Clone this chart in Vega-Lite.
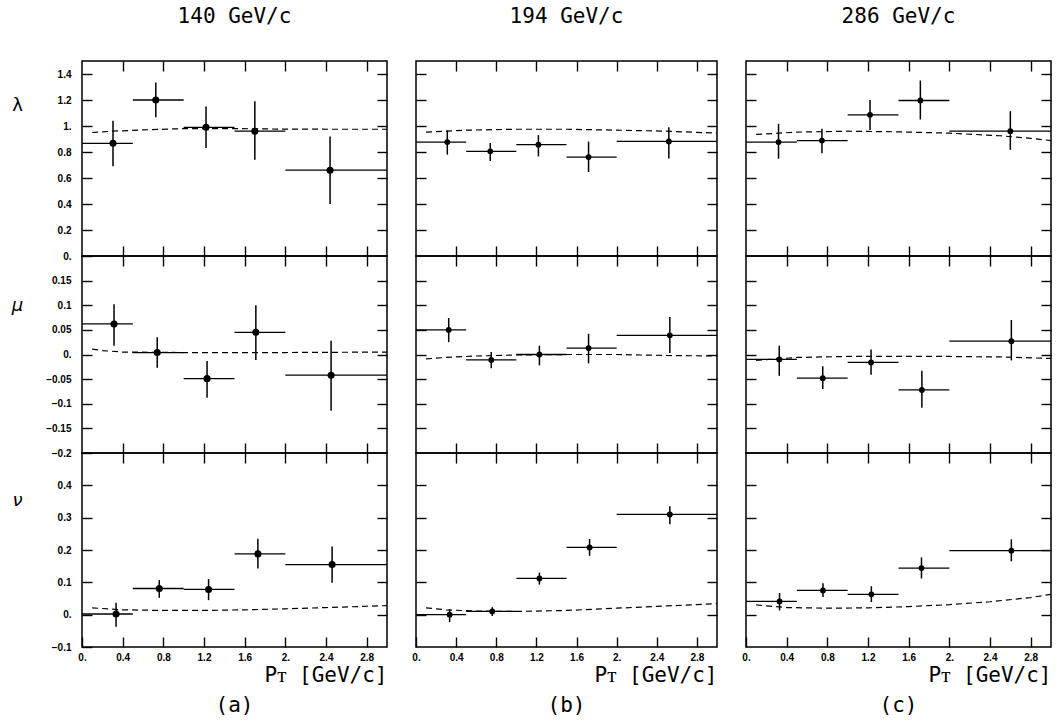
{
 "$schema": "https://vega.github.io/schema/vega-lite/v6.json",
 "background": "white",
 "padding": {"left": 10, "right": 4, "top": 5, "bottom": 4},
 "datasets": {
  "pts": [
   {"col":"a","par":"l","x":0.305,"xlo":0,"xhi":0.5,"y":0.867,"ylo":0.69,"yhi":1.04},
   {"col":"a","par":"l","x":0.726,"xlo":0.5,"xhi":1.0,"y":1.20,"ylo":1.067,"yhi":1.335},
   {"col":"a","par":"l","x":1.22,"xlo":1.0,"xhi":1.5,"y":0.99,"ylo":0.83,"yhi":1.15},
   {"col":"a","par":"l","x":1.70,"xlo":1.5,"xhi":2.0,"y":0.96,"ylo":0.74,"yhi":1.19},
   {"col":"a","par":"l","x":2.44,"xlo":2.0,"xhi":3.0,"y":0.66,"ylo":0.40,"yhi":0.92},
   {"col":"a","par":"m","x":0.315,"xlo":0,"xhi":0.5,"y":0.062,"ylo":0.018,"yhi":0.102},
   {"col":"a","par":"m","x":0.74,"xlo":0.5,"xhi":1.0,"y":0.004,"ylo":-0.027,"yhi":0.035},
   {"col":"a","par":"m","x":1.23,"xlo":1.0,"xhi":1.5,"y":-0.049,"ylo":-0.088,"yhi":-0.013},
   {"col":"a","par":"m","x":1.71,"xlo":1.5,"xhi":2.0,"y":0.045,"ylo":-0.011,"yhi":0.10},
   {"col":"a","par":"m","x":2.45,"xlo":2.0,"xhi":3.0,"y":-0.042,"ylo":-0.114,"yhi":0.028},
   {"col":"a","par":"n","x":0.335,"xlo":0,"xhi":0.5,"y":0.002,"ylo":-0.037,"yhi":0.037},
   {"col":"a","par":"n","x":0.76,"xlo":0.5,"xhi":1.0,"y":0.081,"ylo":0.052,"yhi":0.107},
   {"col":"a","par":"n","x":1.245,"xlo":1.0,"xhi":1.5,"y":0.078,"ylo":0.045,"yhi":0.11},
   {"col":"a","par":"n","x":1.73,"xlo":1.5,"xhi":2.0,"y":0.188,"ylo":0.143,"yhi":0.235},
   {"col":"a","par":"n","x":2.46,"xlo":2.0,"xhi":3.0,"y":0.155,"ylo":0.099,"yhi":0.211},
   {"col":"b","par":"l","x":0.312,"xlo":0,"xhi":0.5,"y":0.876,"ylo":0.78,"yhi":0.965},
   {"col":"b","par":"l","x":0.74,"xlo":0.5,"xhi":1.0,"y":0.805,"ylo":0.73,"yhi":0.87},
   {"col":"b","par":"l","x":1.22,"xlo":1.0,"xhi":1.5,"y":0.856,"ylo":0.766,"yhi":0.93},
   {"col":"b","par":"l","x":1.72,"xlo":1.5,"xhi":2.0,"y":0.761,"ylo":0.646,"yhi":0.88},
   {"col":"b","par":"l","x":2.52,"xlo":2.0,"xhi":3.0,"y":0.881,"ylo":0.75,"yhi":0.99},
   {"col":"b","par":"m","x":0.326,"xlo":0,"xhi":0.5,"y":0.05,"ylo":0.025,"yhi":0.074},
   {"col":"b","par":"m","x":0.75,"xlo":0.5,"xhi":1.0,"y":-0.011,"ylo":-0.028,"yhi":0.005},
   {"col":"b","par":"m","x":1.23,"xlo":1.0,"xhi":1.5,"y":0.0,"ylo":-0.022,"yhi":0.018},
   {"col":"b","par":"m","x":1.72,"xlo":1.5,"xhi":2.0,"y":0.013,"ylo":-0.018,"yhi":0.042},
   {"col":"b","par":"m","x":2.53,"xlo":2.0,"xhi":3.0,"y":0.039,"ylo":0.003,"yhi":0.076},
   {"col":"b","par":"n","x":0.335,"xlo":0,"xhi":0.5,"y":0.0,"ylo":-0.023,"yhi":0.017},
   {"col":"b","par":"n","x":0.76,"xlo":0.5,"xhi":1.0,"y":0.01,"ylo":-0.004,"yhi":0.023},
   {"col":"b","par":"n","x":1.23,"xlo":1.0,"xhi":1.5,"y":0.112,"ylo":0.093,"yhi":0.13},
   {"col":"b","par":"n","x":1.73,"xlo":1.5,"xhi":2.0,"y":0.208,"ylo":0.182,"yhi":0.234},
   {"col":"b","par":"n","x":2.53,"xlo":2.0,"xhi":3.0,"y":0.31,"ylo":0.28,"yhi":0.335},
   {"col":"c","par":"l","x":0.32,"xlo":0,"xhi":0.5,"y":0.876,"ylo":0.748,"yhi":1.017},
   {"col":"c","par":"l","x":0.747,"xlo":0.5,"xhi":1.0,"y":0.888,"ylo":0.79,"yhi":0.978},
   {"col":"c","par":"l","x":1.22,"xlo":1.0,"xhi":1.5,"y":1.086,"ylo":0.97,"yhi":1.20},
   {"col":"c","par":"l","x":1.715,"xlo":1.5,"xhi":2.0,"y":1.196,"ylo":1.05,"yhi":1.35},
   {"col":"c","par":"l","x":2.60,"xlo":2.0,"xhi":3.0,"y":0.96,"ylo":0.817,"yhi":1.114},
   {"col":"c","par":"m","x":0.327,"xlo":0,"xhi":0.5,"y":-0.01,"ylo":-0.043,"yhi":0.018},
   {"col":"c","par":"m","x":0.755,"xlo":0.5,"xhi":1.0,"y":-0.048,"ylo":-0.07,"yhi":-0.024},
   {"col":"c","par":"m","x":1.23,"xlo":1.0,"xhi":1.5,"y":-0.016,"ylo":-0.041,"yhi":0.010},
   {"col":"c","par":"m","x":1.73,"xlo":1.5,"xhi":2.0,"y":-0.072,"ylo":-0.108,"yhi":-0.033},
   {"col":"c","par":"m","x":2.61,"xlo":2.0,"xhi":3.0,"y":0.027,"ylo":-0.012,"yhi":0.07},
   {"col":"c","par":"n","x":0.33,"xlo":0,"xhi":0.5,"y":0.041,"ylo":0.013,"yhi":0.067},
   {"col":"c","par":"n","x":0.757,"xlo":0.5,"xhi":1.0,"y":0.075,"ylo":0.055,"yhi":0.097},
   {"col":"c","par":"n","x":1.233,"xlo":1.0,"xhi":1.5,"y":0.063,"ylo":0.039,"yhi":0.088},
   {"col":"c","par":"n","x":1.726,"xlo":1.5,"xhi":2.0,"y":0.144,"ylo":0.112,"yhi":0.177},
   {"col":"c","par":"n","x":2.61,"xlo":2.0,"xhi":3.0,"y":0.198,"ylo":0.165,"yhi":0.233}
  ],
  "curve": [
   {"col":"a","par":"l","x":0.1,"y":0.95},{"col":"a","par":"l","x":0.3,"y":0.96},{"col":"a","par":"l","x":0.6,"y":0.97},{"col":"a","par":"l","x":1.0,"y":0.98},{"col":"a","par":"l","x":1.5,"y":0.98},{"col":"a","par":"l","x":2.0,"y":0.976},{"col":"a","par":"l","x":2.5,"y":0.975},{"col":"a","par":"l","x":3.0,"y":0.975},
   {"col":"a","par":"m","x":0.1,"y":0.011},{"col":"a","par":"m","x":0.2,"y":0.008},{"col":"a","par":"m","x":0.4,"y":0.005},{"col":"a","par":"m","x":1.0,"y":0.004},{"col":"a","par":"m","x":2.0,"y":0.004},{"col":"a","par":"m","x":3.0,"y":0.005},
   {"col":"a","par":"n","x":0.1,"y":0.021},{"col":"a","par":"n","x":0.4,"y":0.015},{"col":"a","par":"n","x":0.8,"y":0.013},{"col":"a","par":"n","x":1.2,"y":0.013},{"col":"a","par":"n","x":1.6,"y":0.015},{"col":"a","par":"n","x":2.0,"y":0.018},{"col":"a","par":"n","x":2.4,"y":0.022},{"col":"a","par":"n","x":2.8,"y":0.026},{"col":"a","par":"n","x":3.0,"y":0.028},
   {"col":"b","par":"l","x":0.1,"y":0.953},{"col":"b","par":"l","x":0.5,"y":0.968},{"col":"b","par":"l","x":1.0,"y":0.975},{"col":"b","par":"l","x":1.5,"y":0.975},{"col":"b","par":"l","x":2.0,"y":0.968},{"col":"b","par":"l","x":2.5,"y":0.96},{"col":"b","par":"l","x":3.0,"y":0.945},
   {"col":"b","par":"m","x":0.1,"y":-0.009},{"col":"b","par":"m","x":0.3,"y":-0.006},{"col":"b","par":"m","x":0.6,"y":-0.003},{"col":"b","par":"m","x":1.0,"y":-0.001},{"col":"b","par":"m","x":1.5,"y":0.0},{"col":"b","par":"m","x":2.0,"y":0.0},{"col":"b","par":"m","x":2.5,"y":-0.002},{"col":"b","par":"m","x":3.0,"y":-0.003},
   {"col":"b","par":"n","x":0.1,"y":0.021},{"col":"b","par":"n","x":0.3,"y":0.015},{"col":"b","par":"n","x":0.6,"y":0.011},{"col":"b","par":"n","x":1.0,"y":0.01},{"col":"b","par":"n","x":1.5,"y":0.013},{"col":"b","par":"n","x":2.0,"y":0.02},{"col":"b","par":"n","x":2.5,"y":0.027},{"col":"b","par":"n","x":3.0,"y":0.034},
   {"col":"c","par":"l","x":0.1,"y":0.935},{"col":"c","par":"l","x":0.5,"y":0.953},{"col":"c","par":"l","x":1.0,"y":0.96},{"col":"c","par":"l","x":1.5,"y":0.955},{"col":"c","par":"l","x":2.0,"y":0.945},{"col":"c","par":"l","x":2.5,"y":0.925},{"col":"c","par":"l","x":2.8,"y":0.905},{"col":"c","par":"l","x":3.0,"y":0.888},
   {"col":"c","par":"m","x":0.1,"y":-0.012},{"col":"c","par":"m","x":0.5,"y":-0.006},{"col":"c","par":"m","x":1.0,"y":-0.004},{"col":"c","par":"m","x":2.0,"y":-0.004},{"col":"c","par":"m","x":2.5,"y":-0.005},{"col":"c","par":"m","x":3.0,"y":-0.008},
   {"col":"c","par":"n","x":0.1,"y":0.03},{"col":"c","par":"n","x":0.4,"y":0.022},{"col":"c","par":"n","x":0.8,"y":0.02},{"col":"c","par":"n","x":1.2,"y":0.021},{"col":"c","par":"n","x":1.6,"y":0.025},{"col":"c","par":"n","x":2.0,"y":0.031},{"col":"c","par":"n","x":2.4,"y":0.04},{"col":"c","par":"n","x":2.8,"y":0.053},{"col":"c","par":"n","x":3.0,"y":0.063}
  ]
 },
 "columns": 3,
 "spacing": {"row": 0, "column": 29},
 "bounds": "flush",
 "concat": [
  {
   "width": 305, "height": 195,
   "title": {"text": "140 GeV/c", "offset": 33},
   "data": {"name": "pts"},
   "transform": [{"filter": "datum.col==='a' && datum.par==='l'"}],
   "layer": [
    {"mark": {"type": "rule", "color": "black", "strokeWidth": 1.3},
     "encoding": {
      "x": {"field": "xlo", "type": "quantitative", "scale": {"domain": [0, 3], "nice": false}, "axis": {"orient": "bottom", "values": [0.4,0.8,1.2,1.6,2,2.4,2.8], "tickSize": -10, "labels": false, "title": null}},
      "x2": {"field": "xhi"},
      "y": {"field": "y", "type": "quantitative", "scale": {"domain": [0, 1.5], "nice": false}, "axis": {"orient": "left", "values": [0,0.2,0.4,0.6,0.8,1,1.2,1.4], "tickSize": -10, "labelPadding": 21, "labelExpr": "abs(datum.value) < 1e-9 ? '0.' : (datum.value % 1 === 0 ? format(datum.value, 'd') + '.' : format(datum.value, '~g'))", "title": "λ", "titleAngle": 0, "titleX": -65, "titleY": 44, "titleAlign": "center", "titleBaseline": "middle", "titleFont": "DejaVu Sans", "titleFontSize": 18, "titleFontWeight": "normal"}}}},
    {"mark": {"type": "rule", "color": "black", "strokeWidth": 1.5},
     "encoding": {
      "x": {"field": "x", "type": "quantitative", "axis": {"orient": "top", "values": [0.4,0.8,1.2,1.6,2,2.4,2.8], "tickSize": -10, "labels": false, "title": null}},
      "y": {"field": "ylo", "type": "quantitative", "axis": {"orient": "right", "values": [0.2,0.4,0.6,0.8,1,1.2,1.4], "tickSize": -10, "labels": false, "title": null}},
      "y2": {"field": "yhi"}}},
    {"mark": {"type": "point", "filled": true, "color": "black", "opacity": 1, "size": 50},
     "encoding": {"x": {"field": "x", "type": "quantitative", "axis": null}, "y": {"field": "y", "type": "quantitative", "axis": null}}},
    {"data": {"name": "curve"}, "transform": [{"filter": "datum.col==='a' && datum.par==='l'"}],
     "mark": {"type": "line", "color": "black", "strokeWidth": 1.2, "strokeDash": [6, 4]},
     "encoding": {"x": {"field": "x", "type": "quantitative", "axis": null}, "y": {"field": "y", "type": "quantitative", "axis": null}}}
   ],
   "resolve": {"axis": {"x": "independent", "y": "independent"}}
  },
  {
   "width": 301, "height": 195,
   "title": {"text": "194 GeV/c", "offset": 33},
   "data": {"name": "pts"},
   "transform": [{"filter": "datum.col==='b' && datum.par==='l'"}],
   "layer": [
    {"mark": {"type": "rule", "color": "black", "strokeWidth": 1.3},
     "encoding": {
      "x": {"field": "xlo", "type": "quantitative", "scale": {"domain": [0, 3], "nice": false}, "axis": {"orient": "bottom", "values": [0.4,0.8,1.2,1.6,2,2.4,2.8], "tickSize": -10, "labels": false, "title": null}},
      "x2": {"field": "xhi"},
      "y": {"field": "y", "type": "quantitative", "scale": {"domain": [0, 1.5], "nice": false}, "axis": {"orient": "left", "values": [0.2,0.4,0.6,0.8,1,1.2,1.4], "tickSize": -10, "labels": false, "title": null}}}},
    {"mark": {"type": "rule", "color": "black", "strokeWidth": 1.5},
     "encoding": {
      "x": {"field": "x", "type": "quantitative", "axis": {"orient": "top", "values": [0.4,0.8,1.2,1.6,2,2.4,2.8], "tickSize": -10, "labels": false, "title": null}},
      "y": {"field": "ylo", "type": "quantitative", "axis": {"orient": "right", "values": [0.2,0.4,0.6,0.8,1,1.2,1.4], "tickSize": -10, "labels": false, "title": null}},
      "y2": {"field": "yhi"}}},
    {"mark": {"type": "point", "filled": true, "color": "black", "opacity": 1, "size": 34},
     "encoding": {"x": {"field": "x", "type": "quantitative", "axis": null}, "y": {"field": "y", "type": "quantitative", "axis": null}}},
    {"data": {"name": "curve"}, "transform": [{"filter": "datum.col==='b' && datum.par==='l'"}],
     "mark": {"type": "line", "color": "black", "strokeWidth": 1.2, "strokeDash": [6, 4]},
     "encoding": {"x": {"field": "x", "type": "quantitative", "axis": null}, "y": {"field": "y", "type": "quantitative", "axis": null}}}
   ],
   "resolve": {"axis": {"x": "independent", "y": "independent"}}
  },
  {
   "width": 305, "height": 195,
   "title": {"text": "286 GeV/c", "offset": 33},
   "data": {"name": "pts"},
   "transform": [{"filter": "datum.col==='c' && datum.par==='l'"}],
   "layer": [
    {"mark": {"type": "rule", "color": "black", "strokeWidth": 1.3},
     "encoding": {
      "x": {"field": "xlo", "type": "quantitative", "scale": {"domain": [0, 3], "nice": false}, "axis": {"orient": "bottom", "values": [0.4,0.8,1.2,1.6,2,2.4,2.8], "tickSize": -10, "labels": false, "title": null}},
      "x2": {"field": "xhi"},
      "y": {"field": "y", "type": "quantitative", "scale": {"domain": [0, 1.5], "nice": false}, "axis": {"orient": "left", "values": [0.2,0.4,0.6,0.8,1,1.2,1.4], "tickSize": -10, "labels": false, "title": null}}}},
    {"mark": {"type": "rule", "color": "black", "strokeWidth": 1.5},
     "encoding": {
      "x": {"field": "x", "type": "quantitative", "axis": {"orient": "top", "values": [0.4,0.8,1.2,1.6,2,2.4,2.8], "tickSize": -10, "labels": false, "title": null}},
      "y": {"field": "ylo", "type": "quantitative", "axis": {"orient": "right", "values": [0.2,0.4,0.6,0.8,1,1.2,1.4], "tickSize": -10, "labels": false, "title": null}},
      "y2": {"field": "yhi"}}},
    {"mark": {"type": "point", "filled": true, "color": "black", "opacity": 1, "size": 34},
     "encoding": {"x": {"field": "x", "type": "quantitative", "axis": null}, "y": {"field": "y", "type": "quantitative", "axis": null}}},
    {"data": {"name": "curve"}, "transform": [{"filter": "datum.col==='c' && datum.par==='l'"}],
     "mark": {"type": "line", "color": "black", "strokeWidth": 1.2, "strokeDash": [6, 4]},
     "encoding": {"x": {"field": "x", "type": "quantitative", "axis": null}, "y": {"field": "y", "type": "quantitative", "axis": null}}}
   ],
   "resolve": {"axis": {"x": "independent", "y": "independent"}}
  },
  {
   "width": 305, "height": 197,
   "data": {"name": "pts"},
   "transform": [{"filter": "datum.col==='a' && datum.par==='m'"}],
   "layer": [
    {"mark": {"type": "rule", "color": "black", "strokeWidth": 1.3},
     "encoding": {
      "x": {"field": "xlo", "type": "quantitative", "scale": {"domain": [0, 3], "nice": false}, "axis": {"orient": "bottom", "values": [0.4,0.8,1.2,1.6,2,2.4,2.8], "tickSize": -10, "labels": false, "title": null}},
      "x2": {"field": "xhi"},
      "y": {"field": "y", "type": "quantitative", "scale": {"domain": [-0.2, 0.2], "nice": false}, "axis": {"orient": "left", "values": [-0.2,-0.15,-0.1,-0.05,0,0.05,0.1,0.15], "tickSize": -10, "labelPadding": 21, "labelExpr": "abs(datum.value) < 1e-9 ? '0.' : (datum.value % 1 === 0 ? format(datum.value, 'd') + '.' : format(datum.value, '~g'))", "title": "μ", "titleAngle": 0, "titleX": -65, "titleY": 49, "titleAlign": "center", "titleBaseline": "middle", "titleFont": "DejaVu Sans", "titleFontSize": 18, "titleFontWeight": "normal", "titleFontStyle": "italic"}}}},
    {"mark": {"type": "rule", "color": "black", "strokeWidth": 1.5},
     "encoding": {
      "x": {"field": "x", "type": "quantitative", "axis": {"orient": "top", "values": [0.4,0.8,1.2,1.6,2,2.4,2.8], "tickSize": -10, "labels": false, "title": null}},
      "y": {"field": "ylo", "type": "quantitative", "axis": {"orient": "right", "values": [-0.15,-0.1,-0.05,0,0.05,0.1,0.15], "tickSize": -10, "labels": false, "title": null}},
      "y2": {"field": "yhi"}}},
    {"mark": {"type": "point", "filled": true, "color": "black", "opacity": 1, "size": 50},
     "encoding": {"x": {"field": "x", "type": "quantitative", "axis": null}, "y": {"field": "y", "type": "quantitative", "axis": null}}},
    {"data": {"name": "curve"}, "transform": [{"filter": "datum.col==='a' && datum.par==='m'"}],
     "mark": {"type": "line", "color": "black", "strokeWidth": 1.2, "strokeDash": [6, 4]},
     "encoding": {"x": {"field": "x", "type": "quantitative", "axis": null}, "y": {"field": "y", "type": "quantitative", "axis": null}}}
   ],
   "resolve": {"axis": {"x": "independent", "y": "independent"}}
  },
  {
   "width": 301, "height": 197,
   "data": {"name": "pts"},
   "transform": [{"filter": "datum.col==='b' && datum.par==='m'"}],
   "layer": [
    {"mark": {"type": "rule", "color": "black", "strokeWidth": 1.3},
     "encoding": {
      "x": {"field": "xlo", "type": "quantitative", "scale": {"domain": [0, 3], "nice": false}, "axis": {"orient": "bottom", "values": [0.4,0.8,1.2,1.6,2,2.4,2.8], "tickSize": -10, "labels": false, "title": null}},
      "x2": {"field": "xhi"},
      "y": {"field": "y", "type": "quantitative", "scale": {"domain": [-0.2, 0.2], "nice": false}, "axis": {"orient": "left", "values": [-0.15,-0.1,-0.05,0,0.05,0.1,0.15], "tickSize": -10, "labels": false, "title": null}}}},
    {"mark": {"type": "rule", "color": "black", "strokeWidth": 1.5},
     "encoding": {
      "x": {"field": "x", "type": "quantitative", "axis": {"orient": "top", "values": [0.4,0.8,1.2,1.6,2,2.4,2.8], "tickSize": -10, "labels": false, "title": null}},
      "y": {"field": "ylo", "type": "quantitative", "axis": {"orient": "right", "values": [-0.15,-0.1,-0.05,0,0.05,0.1,0.15], "tickSize": -10, "labels": false, "title": null}},
      "y2": {"field": "yhi"}}},
    {"mark": {"type": "point", "filled": true, "color": "black", "opacity": 1, "size": 34},
     "encoding": {"x": {"field": "x", "type": "quantitative", "axis": null}, "y": {"field": "y", "type": "quantitative", "axis": null}}},
    {"data": {"name": "curve"}, "transform": [{"filter": "datum.col==='b' && datum.par==='m'"}],
     "mark": {"type": "line", "color": "black", "strokeWidth": 1.2, "strokeDash": [6, 4]},
     "encoding": {"x": {"field": "x", "type": "quantitative", "axis": null}, "y": {"field": "y", "type": "quantitative", "axis": null}}}
   ],
   "resolve": {"axis": {"x": "independent", "y": "independent"}}
  },
  {
   "width": 305, "height": 197,
   "data": {"name": "pts"},
   "transform": [{"filter": "datum.col==='c' && datum.par==='m'"}],
   "layer": [
    {"mark": {"type": "rule", "color": "black", "strokeWidth": 1.3},
     "encoding": {
      "x": {"field": "xlo", "type": "quantitative", "scale": {"domain": [0, 3], "nice": false}, "axis": {"orient": "bottom", "values": [0.4,0.8,1.2,1.6,2,2.4,2.8], "tickSize": -10, "labels": false, "title": null}},
      "x2": {"field": "xhi"},
      "y": {"field": "y", "type": "quantitative", "scale": {"domain": [-0.2, 0.2], "nice": false}, "axis": {"orient": "left", "values": [-0.15,-0.1,-0.05,0,0.05,0.1,0.15], "tickSize": -10, "labels": false, "title": null}}}},
    {"mark": {"type": "rule", "color": "black", "strokeWidth": 1.5},
     "encoding": {
      "x": {"field": "x", "type": "quantitative", "axis": {"orient": "top", "values": [0.4,0.8,1.2,1.6,2,2.4,2.8], "tickSize": -10, "labels": false, "title": null}},
      "y": {"field": "ylo", "type": "quantitative", "axis": {"orient": "right", "values": [-0.15,-0.1,-0.05,0,0.05,0.1,0.15], "tickSize": -10, "labels": false, "title": null}},
      "y2": {"field": "yhi"}}},
    {"mark": {"type": "point", "filled": true, "color": "black", "opacity": 1, "size": 34},
     "encoding": {"x": {"field": "x", "type": "quantitative", "axis": null}, "y": {"field": "y", "type": "quantitative", "axis": null}}},
    {"data": {"name": "curve"}, "transform": [{"filter": "datum.col==='c' && datum.par==='m'"}],
     "mark": {"type": "line", "color": "black", "strokeWidth": 1.2, "strokeDash": [6, 4]},
     "encoding": {"x": {"field": "x", "type": "quantitative", "axis": null}, "y": {"field": "y", "type": "quantitative", "axis": null}}}
   ],
   "resolve": {"axis": {"x": "independent", "y": "independent"}}
  },
  {
   "width": 305, "height": 194,
   "title": {"text": "(a)", "orient": "bottom", "offset": 10},
   "data": {"name": "pts"},
   "transform": [{"filter": "datum.col==='a' && datum.par==='n'"}],
   "layer": [
    {"mark": {"type": "rule", "color": "black", "strokeWidth": 1.3},
     "encoding": {
      "x": {"field": "xlo", "type": "quantitative", "scale": {"domain": [0, 3], "nice": false}, "axis": {"orient": "bottom", "values": [0,0.4,0.8,1.2,1.6,2,2.4,2.8], "tickSize": -10, "labelPadding": 15, "labelExpr": "abs(datum.value) < 1e-9 ? '0.' : (datum.value % 1 === 0 ? format(datum.value, 'd') + '.' : format(datum.value, '~g'))", "title": "Pᴛ [GeV/c]", "titleAnchor": "end", "titlePadding": 2, "titleFont": "DejaVu Sans Mono", "titleFontSize": 21, "titleFontWeight": "normal"}},
      "x2": {"field": "xhi"},
      "y": {"field": "y", "type": "quantitative", "scale": {"domain": [-0.1, 0.5], "nice": false}, "axis": {"orient": "left", "values": [-0.1,0,0.1,0.2,0.3,0.4], "tickSize": -10, "labelPadding": 21, "labelExpr": "abs(datum.value) < 1e-9 ? '0.' : (datum.value % 1 === 0 ? format(datum.value, 'd') + '.' : format(datum.value, '~g'))", "title": "ν", "titleAngle": 0, "titleX": -65, "titleY": 47, "titleAlign": "center", "titleBaseline": "middle", "titleFont": "DejaVu Sans", "titleFontSize": 18, "titleFontWeight": "normal", "titleFontStyle": "italic"}}}},
    {"mark": {"type": "rule", "color": "black", "strokeWidth": 1.5},
     "encoding": {
      "x": {"field": "x", "type": "quantitative", "axis": {"orient": "top", "values": [0.4,0.8,1.2,1.6,2,2.4,2.8], "tickSize": -10, "labels": false, "title": null}},
      "y": {"field": "ylo", "type": "quantitative", "axis": {"orient": "right", "values": [0,0.1,0.2,0.3,0.4], "tickSize": -10, "labels": false, "title": null}},
      "y2": {"field": "yhi"}}},
    {"mark": {"type": "point", "filled": true, "color": "black", "opacity": 1, "size": 50},
     "encoding": {"x": {"field": "x", "type": "quantitative", "axis": null}, "y": {"field": "y", "type": "quantitative", "axis": null}}},
    {"data": {"name": "curve"}, "transform": [{"filter": "datum.col==='a' && datum.par==='n'"}],
     "mark": {"type": "line", "color": "black", "strokeWidth": 1.2, "strokeDash": [6, 4]},
     "encoding": {"x": {"field": "x", "type": "quantitative", "axis": null}, "y": {"field": "y", "type": "quantitative", "axis": null}}}
   ],
   "resolve": {"axis": {"x": "independent", "y": "independent"}}
  },
  {
   "width": 301, "height": 194,
   "title": {"text": "(b)", "orient": "bottom", "offset": 10},
   "data": {"name": "pts"},
   "transform": [{"filter": "datum.col==='b' && datum.par==='n'"}],
   "layer": [
    {"mark": {"type": "rule", "color": "black", "strokeWidth": 1.3},
     "encoding": {
      "x": {"field": "xlo", "type": "quantitative", "scale": {"domain": [0, 3], "nice": false}, "axis": {"orient": "bottom", "values": [0,0.4,0.8,1.2,1.6,2,2.4,2.8], "tickSize": -10, "labelPadding": 15, "labelExpr": "abs(datum.value) < 1e-9 ? '0.' : (datum.value % 1 === 0 ? format(datum.value, 'd') + '.' : format(datum.value, '~g'))", "title": "Pᴛ [GeV/c]", "titleAnchor": "end", "titlePadding": 2, "titleFont": "DejaVu Sans Mono", "titleFontSize": 21, "titleFontWeight": "normal"}},
      "x2": {"field": "xhi"},
      "y": {"field": "y", "type": "quantitative", "scale": {"domain": [-0.1, 0.5], "nice": false}, "axis": {"orient": "left", "values": [0,0.1,0.2,0.3,0.4], "tickSize": -10, "labels": false, "title": null}}}},
    {"mark": {"type": "rule", "color": "black", "strokeWidth": 1.5},
     "encoding": {
      "x": {"field": "x", "type": "quantitative", "axis": {"orient": "top", "values": [0.4,0.8,1.2,1.6,2,2.4,2.8], "tickSize": -10, "labels": false, "title": null}},
      "y": {"field": "ylo", "type": "quantitative", "axis": {"orient": "right", "values": [0,0.1,0.2,0.3,0.4], "tickSize": -10, "labels": false, "title": null}},
      "y2": {"field": "yhi"}}},
    {"mark": {"type": "point", "filled": true, "color": "black", "opacity": 1, "size": 34},
     "encoding": {"x": {"field": "x", "type": "quantitative", "axis": null}, "y": {"field": "y", "type": "quantitative", "axis": null}}},
    {"data": {"name": "curve"}, "transform": [{"filter": "datum.col==='b' && datum.par==='n'"}],
     "mark": {"type": "line", "color": "black", "strokeWidth": 1.2, "strokeDash": [6, 4]},
     "encoding": {"x": {"field": "x", "type": "quantitative", "axis": null}, "y": {"field": "y", "type": "quantitative", "axis": null}}}
   ],
   "resolve": {"axis": {"x": "independent", "y": "independent"}}
  },
  {
   "width": 305, "height": 194,
   "title": {"text": "(c)", "orient": "bottom", "offset": 10},
   "data": {"name": "pts"},
   "transform": [{"filter": "datum.col==='c' && datum.par==='n'"}],
   "layer": [
    {"mark": {"type": "rule", "color": "black", "strokeWidth": 1.3},
     "encoding": {
      "x": {"field": "xlo", "type": "quantitative", "scale": {"domain": [0, 3], "nice": false}, "axis": {"orient": "bottom", "values": [0,0.4,0.8,1.2,1.6,2,2.4,2.8], "tickSize": -10, "labelPadding": 15, "labelExpr": "abs(datum.value) < 1e-9 ? '0.' : (datum.value % 1 === 0 ? format(datum.value, 'd') + '.' : format(datum.value, '~g'))", "title": "Pᴛ [GeV/c]", "titleAnchor": "end", "titlePadding": 2, "titleFont": "DejaVu Sans Mono", "titleFontSize": 21, "titleFontWeight": "normal"}},
      "x2": {"field": "xhi"},
      "y": {"field": "y", "type": "quantitative", "scale": {"domain": [-0.1, 0.5], "nice": false}, "axis": {"orient": "left", "values": [0,0.1,0.2,0.3,0.4], "tickSize": -10, "labels": false, "title": null}}}},
    {"mark": {"type": "rule", "color": "black", "strokeWidth": 1.5},
     "encoding": {
      "x": {"field": "x", "type": "quantitative", "axis": {"orient": "top", "values": [0.4,0.8,1.2,1.6,2,2.4,2.8], "tickSize": -10, "labels": false, "title": null}},
      "y": {"field": "ylo", "type": "quantitative", "axis": {"orient": "right", "values": [0,0.1,0.2,0.3,0.4], "tickSize": -10, "labels": false, "title": null}},
      "y2": {"field": "yhi"}}},
    {"mark": {"type": "point", "filled": true, "color": "black", "opacity": 1, "size": 34},
     "encoding": {"x": {"field": "x", "type": "quantitative", "axis": null}, "y": {"field": "y", "type": "quantitative", "axis": null}}},
    {"data": {"name": "curve"}, "transform": [{"filter": "datum.col==='c' && datum.par==='n'"}],
     "mark": {"type": "line", "color": "black", "strokeWidth": 1.2, "strokeDash": [6, 4]},
     "encoding": {"x": {"field": "x", "type": "quantitative", "axis": null}, "y": {"field": "y", "type": "quantitative", "axis": null}}}
   ],
   "resolve": {"axis": {"x": "independent", "y": "independent"}}
  }
 ],
 "config": {
  "view": {"stroke": "black", "strokeWidth": 1.5},
  "axis": {"domain": false, "grid": false, "tickColor": "black", "tickWidth": 1.4, "labelColor": "black", "labelFont": "Liberation Sans", "labelFontSize": 10, "labelFontWeight": "bold", "labelOverlap": false, "labelFlush": false, "labelBound": false, "titleColor": "black"},
  "title": {"color": "black", "font": "DejaVu Sans Mono", "fontSize": 21, "fontWeight": "normal"}
 }
}
